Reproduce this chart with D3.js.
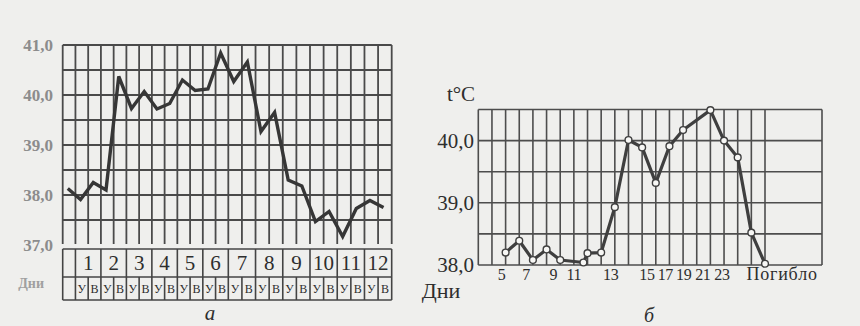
<!DOCTYPE html>
<html><head><meta charset="utf-8">
<script src="https://cdn.jsdelivr.net/npm/d3@7"></script>
<style>
html,body{margin:0;padding:0;background:#efefed;}
svg{display:block;}
text{font-family:"Liberation Serif","DejaVu Serif",serif;}
</style></head>
<body>
<svg id="c" width="860" height="326"></svg>
<script>
// ---- Chart "а": temperature, morning (У) / evening (В), days 1-12 ----
const tempsA = [38.13, 37.91, 38.25, 38.1, 40.37, 39.73, 40.07, 39.72, 39.83, 40.3, 40.09, 40.12, 40.84,
                40.27, 40.66, 39.27, 39.65, 38.3, 38.18, 37.47, 37.67, 37.17, 37.73, 37.89, 37.75];
const yTicksA = [41, 40, 39, 38, 37];
const dayLabelsA = ["1","2","3","4","5","6","7","8","9","10","11","12"];
const halfLabelsA = ["У","В"];

// ---- Chart "б": temperature by day ----
const daysB  = [5, 6, 7, 8, 9, 10.7, 11, 12, 13, 14, 15, 16, 17, 18, 20, 21, 22, 23, 24];
const tempsB = [38.2, 38.39, 38.08, 38.25, 38.08, 38.04, 38.19, 38.2, 38.93, 40.01, 39.89, 39.32,
                39.91, 40.17, 40.49, 40.0, 39.73, 38.52, 38.02];
const yTicksB = [40, 39, 38];
const xLabelsB = ["5","7","9","11","13","15","17","19","21","23","Погибло"];
const xLabelPosB = [4.7, 6.5, 8.5, 10.0, 12.7, 15.35, 16.7, 18.05, 19.45, 20.85, 25.25];

const svg = d3.select("#c");

// ================= Chart а =================
const gA = svg.append("g");
const colA = d3.scaleLinear().domain([0, 13, 25]).range([62.7, 228.3, 391.7]);
const yA = d3.scaleLinear().domain([37, 41]).range([245, 45]);
const topA = yA(41), gridBottomA = 244;

gA.selectAll("line.h").data(d3.range(37.5, 41.01, 0.5)).join("line")
  .attr("x1", colA(0)).attr("x2", colA(25))
  .attr("y1", d => yA(d)).attr("y2", d => yA(d))
  .attr("stroke", "#4a4a4a").attr("stroke-width", 1.8);
gA.selectAll("line.v").data(d3.range(0, 26)).join("line")
  .attr("x1", d => colA(d)).attr("x2", d => colA(d))
  .attr("y1", topA).attr("y2", gridBottomA)
  .attr("stroke", "#4a4a4a").attr("stroke-width", 1.8);

gA.selectAll("text.yl").data(yTicksA).join("text")
  .attr("x", 53).attr("y", d => yA(d)).attr("dy", "0.35em")
  .attr("text-anchor", "end").attr("font-size", 17).attr("font-weight", "bold")
  .attr("fill", "#8c8c8c")
  .text(d => d3.format(".1f")(d).replace(".", ","));

const lineA = d3.line().x((d, i) => colA(i + 0.4)).y(d => yA(d));
gA.append("path").datum(tempsA).attr("d", lineA)
  .attr("fill", "none").attr("stroke", "#363636").attr("stroke-width", 3.4)
  .attr("stroke-linejoin", "miter");

const tTop = 249, tMid = 277, tBot = 300;
const tbl = gA.append("g").attr("stroke", "#444").attr("stroke-width", 1.6);
[tTop, tMid, tBot].forEach(y => tbl.append("line").attr("x1", colA(0)).attr("x2", colA(25)).attr("y1", y).attr("y2", y));
tbl.selectAll("line.r1").data([0].concat(d3.range(1, 26, 2))).join("line")
  .attr("x1", d => colA(d)).attr("x2", d => colA(d)).attr("y1", tTop).attr("y2", tMid);
tbl.selectAll("line.r2").data(d3.range(0, 26)).join("line")
  .attr("x1", d => colA(d)).attr("x2", d => colA(d)).attr("y1", tMid).attr("y2", tBot);

gA.selectAll("text.day").data(dayLabelsA).join("text")
  .attr("x", (d, i) => (colA(2 * i + 1) + colA(2 * i + 3)) / 2).attr("y", 270)
  .attr("text-anchor", "middle").attr("font-size", 21).attr("fill", "#2e2e2e")
  .text(d => d);
gA.selectAll("text.half").data(d3.range(1, 25)).join("text")
  .attr("x", d => (colA(d) + colA(d + 1)) / 2).attr("y", 293)
  .attr("text-anchor", "middle").attr("font-size", 12).attr("fill", "#2e2e2e")
  .text(d => halfLabelsA[(d - 1) % 2]);

gA.append("text").attr("x", 44).attr("y", 288).attr("text-anchor", "end")
  .attr("font-size", 14).attr("font-weight", "bold").attr("fill", "#a0a0a0").text("Дни");
gA.append("text").attr("x", 210).attr("y", 320).attr("text-anchor", "middle")
  .attr("font-size", 21).attr("font-style", "italic").attr("fill", "#2e2e2e").text("а");

// ================= Chart б =================
const gB = svg.append("g");
const xB = d3.scaleLinear().domain([3, 24]).range([478.3, 765]);
const yB = d3.scaleLinear().domain([38, 40.5]).range([265, 109.5]);
const rightB = 822;

gB.selectAll("line.h").data(d3.range(38, 40.51, 0.5)).join("line")
  .attr("x1", xB(3)).attr("x2", rightB)
  .attr("y1", d => yB(d)).attr("y2", d => yB(d))
  .attr("stroke", "#4d4d4d").attr("stroke-width", 1.6);
gB.selectAll("line.v").data(d3.range(3, 25)).join("line")
  .attr("x1", d => xB(d)).attr("x2", d => xB(d))
  .attr("y1", yB(40.5)).attr("y2", yB(38))
  .attr("stroke", "#4d4d4d").attr("stroke-width", 1.6);
gB.append("line").attr("x1", rightB).attr("x2", rightB).attr("y1", yB(40.5)).attr("y2", yB(38))
  .attr("stroke", "#4d4d4d").attr("stroke-width", 1.6);

gB.selectAll("text.yl").data(yTicksB).join("text")
  .attr("x", 474).attr("y", d => yB(d)).attr("dy", "0.33em")
  .attr("text-anchor", "end").attr("font-size", 21).attr("fill", "#2e2e2e")
  .text(d => d3.format(".1f")(d).replace(".", ","));
gB.append("text").attr("x", 461).attr("y", 101).attr("text-anchor", "middle")
  .attr("font-size", 21).attr("fill", "#2e2e2e").text("t°C");

const lineB = d3.line().x((d, i) => xB(daysB[i])).y(d => yB(d));
gB.append("path").datum(tempsB).attr("d", lineB)
  .attr("fill", "none").attr("stroke", "#3f3f3f").attr("stroke-width", 3.2)
  .attr("stroke-linejoin", "round");
gB.selectAll("circle").data(tempsB).join("circle")
  .attr("cx", (d, i) => xB(daysB[i])).attr("cy", d => yB(d)).attr("r", 3.4)
  .attr("fill", "#f7f7f5").attr("stroke", "#3f3f3f").attr("stroke-width", 1.4);

gB.selectAll("text.xl").data(xLabelsB).join("text")
  .attr("x", (d, i) => xB(xLabelPosB[i])).attr("y", 280)
  .attr("text-anchor", "middle").attr("font-size", d => d.length > 3 ? 18 : 16)
  .attr("fill", "#2e2e2e")
  .attr("letter-spacing", d => d.length > 3 ? 0.8 : -0.3)
  .text(d => d);
gB.append("text").attr("x", 441).attr("y", 298).attr("text-anchor", "middle")
  .attr("font-size", 22).attr("fill", "#2e2e2e").text("Дни");
gB.append("text").attr("x", 649).attr("y", 322).attr("text-anchor", "middle")
  .attr("font-size", 20).attr("font-style", "italic").attr("fill", "#2e2e2e").text("б");
</script>
</body></html>
